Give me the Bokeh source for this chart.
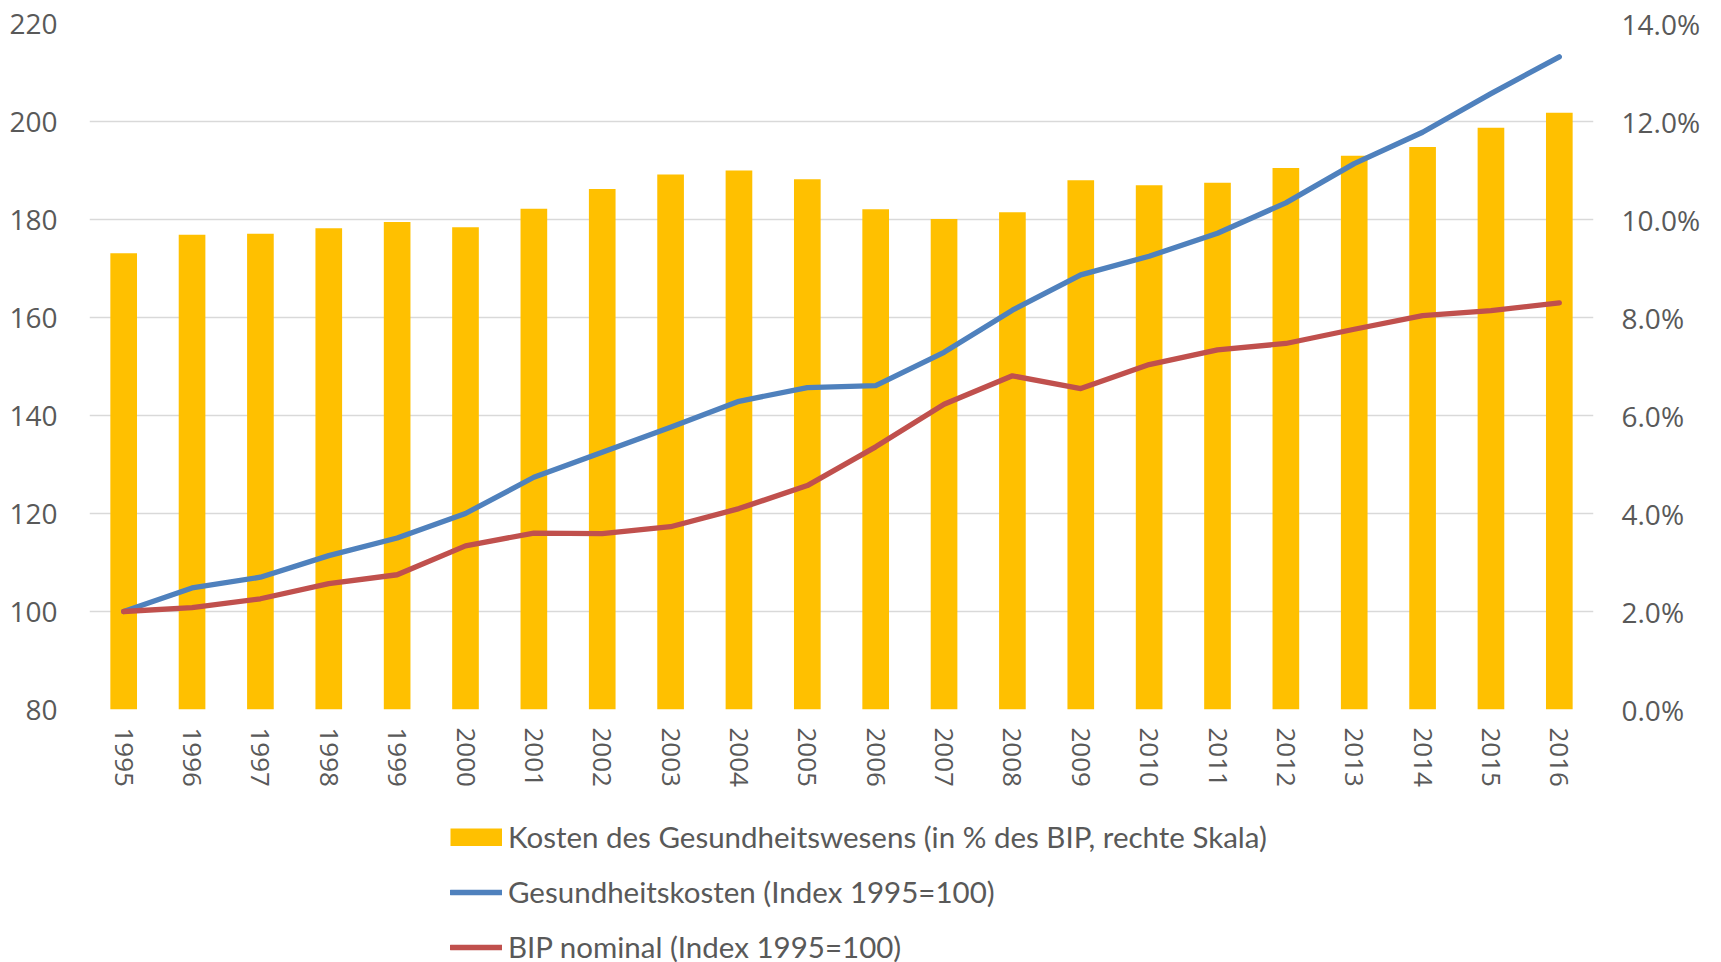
from bokeh.plotting import figure
from bokeh.layouts import column
from bokeh.models import Range1d, FactorRange, LinearAxis, NumeralTickFormatter, Legend, LegendItem, ColumnDataSource, FixedTicker
from bokeh.embed import file_html
from bokeh.resources import INLINE

years = [str(y) for y in range(1995, 2017)]
share_pct = [9.31, 9.69, 9.71, 9.82, 9.95, 9.84, 10.22, 10.62, 10.92, 11.0, 10.82,
             10.21, 10.01, 10.15, 10.80, 10.70, 10.75, 11.05, 11.30, 11.48, 11.87, 12.18]
health_index = [100.0, 104.8, 107.0, 111.4, 115.0, 120.0, 127.4, 132.5, 137.6, 142.9, 145.7,
                146.1, 152.9, 161.5, 168.7, 172.5, 177.2, 183.4, 191.4, 197.8, 205.7, 213.2]
gdp_index = [100.0, 100.8, 102.6, 105.7, 107.5, 113.4, 116.0, 115.9, 117.3, 121.0, 125.7,
             133.6, 142.3, 148.1, 145.5, 150.4, 153.4, 154.7, 157.6, 160.4, 161.4, 163.0]
left_ticks = [80, 100, 120, 140, 160, 180, 200, 220]
right_ticks = [0.0, 0.02, 0.04, 0.06, 0.08, 0.10, 0.12, 0.14]
legend_labels = ["Kosten des Gesundheitswesens (in % des BIP, rechte Skala)",
                 "Gesundheitskosten (Index 1995=100)",
                 "BIP nominal (Index 1995=100)"]

BAR_C, BLUE_C, RED_C, TXT = "#FFC000", "#4F81BD", "#C0504D", "#595959"
LW = 5.3

src = ColumnDataSource(dict(year=years, pct=[v / 100 for v in share_pct],
                            health=health_index, gdp=gdp_index))

p = figure(width=1721, height=800, x_range=FactorRange(*years, range_padding=0),
           y_range=Range1d(80, 220), output_backend="svg", toolbar_location=None,
           min_border_left=89, min_border_right=128, min_border_top=23, min_border_bottom=91)
p.extra_y_ranges = {"pct": Range1d(0, 0.14)}
p.outline_line_color = None

p.vbar(x="year", top="pct", bottom=0, width=0.39, source=src, y_range_name="pct",
       fill_color=BAR_C, line_color=None)
p.line(x="year", y="health", source=src, line_color=BLUE_C, line_width=LW,
       line_cap="round", line_join="round")
p.line(x="year", y="gdp", source=src, line_color=RED_C, line_width=LW,
       line_cap="round", line_join="round")

p.xgrid.grid_line_color = None
p.ygrid.grid_line_color = "#D9D9D9"
p.ygrid.grid_line_width = 1.5
p.yaxis.ticker = FixedTicker(ticks=left_ticks)

ax_r = LinearAxis(y_range_name="pct", ticker=FixedTicker(ticks=right_ticks),
                  formatter=NumeralTickFormatter(format="0.0%"))
p.add_layout(ax_r, "right")

for ax, so in [(p.yaxis[0], 26), (ax_r, 22)]:
    ax.axis_line_color = None
    ax.major_tick_line_color = None
    ax.minor_tick_line_color = None
    ax.major_label_text_font = "Open Sans"
    ax.major_label_text_font_size = "28px"
    ax.major_label_text_color = TXT
    ax.major_label_standoff = so

xa = p.xaxis[0]
xa.axis_line_color = None
xa.major_tick_line_color = None
xa.major_label_orientation = "vertical"
xa.major_label_text_font = "Open Sans"
xa.major_label_text_font_size = "26px"
xa.major_label_text_color = TXT
xa.major_label_standoff = 12

# legend strip below the chart; the series are drawn here far outside the
# visible range, only so that the legend can show their glyphs
leg = figure(width=1721, height=162, x_range=FactorRange(*years, range_padding=0),
             y_range=Range1d(1000, 1001), x_axis_type=None, y_axis_type=None,
             output_backend="svg", toolbar_location=None,
             min_border_left=89, min_border_top=0, min_border_right=128, min_border_bottom=0)
leg.outline_line_color = None
leg.xgrid.grid_line_color = None
leg.ygrid.grid_line_color = None
r0 = leg.line(x="year", y="pct", source=src, line_color=BAR_C, line_width=18, line_cap="butt")
r1 = leg.line(x="year", y="health", source=src, line_color=BLUE_C, line_width=LW, line_cap="round")
r2 = leg.line(x="year", y="gdp", source=src, line_color=RED_C, line_width=LW, line_cap="round")

legend = Legend(items=[LegendItem(label=legend_labels[0], renderers=[r0]),
                       LegendItem(label=legend_labels[1], renderers=[r1]),
                       LegendItem(label=legend_labels[2], renderers=[r2])],
                location=(361, -2.4), orientation="vertical",
                glyph_width=52, glyph_height=18, label_height=18, label_standoff=6,
                spacing=20, padding=0, margin=0,
                border_line_color=None, background_fill_alpha=0,
                label_text_font="Lato", label_text_font_size="29.5px", label_text_color=TXT)
leg.add_layout(legend, "center")

layout = column(p, leg, spacing=0)
open("out.html", "w").write(file_html(layout, INLINE))
